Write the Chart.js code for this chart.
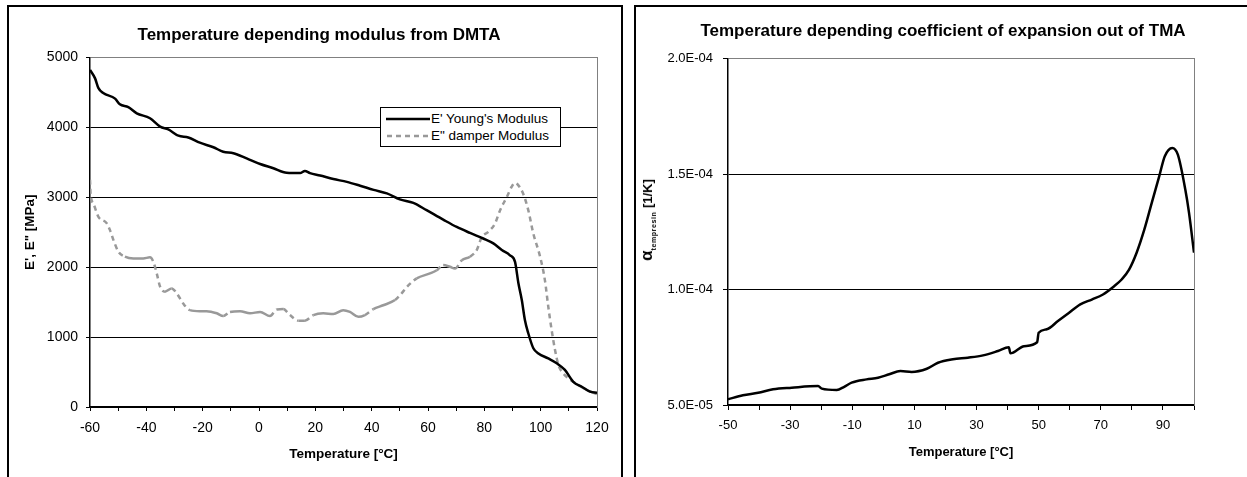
<!DOCTYPE html>
<html>
<head>
<meta charset="utf-8">
<title>DMTA and TMA</title>
<script src="https://cdn.jsdelivr.net/npm/chart.js@4.4.1/dist/chart.umd.min.js"></script>
<style>
    html, body { margin: 0; padding: 0; background: #fff; }
    body {
        width: 1247px;
        height: 477px;
        overflow: hidden;
        position: relative;
        font-family: "Liberation Sans", Arial, sans-serif;
    }
    .frame {
        position: absolute;
        top: 5px;
        height: 490px;
        border: 2px solid #000;
        border-bottom: none;
    }
    #frameLeft { left: 7px; width: 612px; }
    #frameRight { left: 634px; width: 640px; }
    canvas { position: absolute; top: 0; }
    #dmtaChart { left: 0; }
    #tmaChart { left: 630px; }

    /* legend of the DMTA chart */
    #dmtaLegend {
        position: absolute;
        left: 380px;
        top: 107px;
        width: 179px;
        height: 38px;
        border: 1px solid #000;
        background: #fff;
        font-size: 13.5px;
        color: #000;
    }
    .legend-row {
        position: absolute;
        left: 5px;
        height: 16px;
        line-height: 16px;
        white-space: nowrap;
    }
    .legend-row svg { vertical-align: middle; margin-right: 1px; }
    #rowYoung { top: 3px; }
    #rowDamper { top: 20px; }

    /* y axis title of the TMA chart (needs a subscript) */
    #alphaTitle {
        position: absolute;
        left: 647px;
        top: 220px;
        transform: translate(-50%, -50%) rotate(-90deg);
        white-space: nowrap;
        font-weight: bold;
        font-size: 13px;
        color: #000;
    }
    #alphaTitle .alpha { font-size: 17px; }
    #alphaTitle sub { font-size: 7px; letter-spacing: 0.6px; vertical-align: -4px; }
</style>
</head>
<body>
<div class="frame" id="frameLeft"></div>
<div class="frame" id="frameRight"></div>
<canvas id="dmtaChart" width="638" height="477"></canvas>
<canvas id="tmaChart" width="626" height="477"></canvas>

<div id="dmtaLegend">
    <div class="legend-row" id="rowYoung">
        <svg width="44" height="6"><line x1="0" y1="3" x2="44" y2="3" stroke="#000" stroke-width="2.5"/></svg>E' Young's Modulus
    </div>
    <div class="legend-row" id="rowDamper">
        <svg width="44" height="6"><line x1="1" y1="3" x2="44" y2="3" stroke="#999" stroke-width="2.5" stroke-dasharray="5 4"/></svg>E" damper Modulus
    </div>
</div>
<div id="alphaTitle"><span class="alpha">α</span><sub>tempresin</sub> [1/K]</div>

<script>
// ============================================
// Data - DMTA (left chart)
// ============================================

const tempYoung = [-60, -58.2, -57, -55.3, -51.1, -49.4, -46.4, -43.4, -38.7, -35.1, -32.2, -28.6,
    -25.1, -21, -16.2, -12.7, -9.1, -4.4, 0.4, 5.1, 9.8, 14.6, 16.3, 18.1, 21.7, 26.4, 31.2, 35.9,
    40.7, 45.4, 50, 54.8, 59.5, 65.4, 70.2, 74.9, 79.6, 83.2, 86.2, 89.1, 90.9, 92.1, 93.3, 94.4,
    95.6, 97.4, 99.2, 102.7, 105.7, 108.6, 111.6, 114.6, 117.5, 120];
const youngModulus = [4820, 4700, 4560, 4490, 4410, 4330, 4290, 4200, 4130, 4010, 3970, 3880,
    3855, 3780, 3715, 3650, 3630, 3555, 3475, 3415, 3350, 3345, 3375, 3345, 3310, 3260, 3220, 3165,
    3105, 3055, 2970, 2920, 2815, 2680, 2575, 2490, 2410, 2340, 2245, 2170, 2075, 1770, 1530, 1245,
    1055, 840, 765, 695, 625, 530, 360, 290, 220, 205];

const tempDamper = [-60, -59.8, -58.8, -57, -54.1, -52.9, -51.7, -49.9, -47.6, -44.6, -41.1, -38.7,
    -37.5, -36.3, -35.1, -33.4, -31, -29.2, -26.9, -24.5, -21, -18.6, -15, -12.7, -10.3, -6.7, -3.2,
    0.4, 3.9, 6.3, 8.6, 11, 14, 16.3, 19.3, 22.8, 26.4, 29.9, 32.3, 35.3, 37.6, 40.6, 44.1, 48.3,
    50.1, 52.6, 56, 60.7, 63.1, 65.4, 67.8, 69.6, 72, 74.9, 77.3, 79.1, 81.4, 83.8, 85.6, 88, 89.7,
    90.9, 92.1, 93.8, 95.6, 97.4, 99.8, 101.5, 102.7, 103.9, 105.1, 106.3, 108, 110.4, 113.3, 116.3, 120];
const damperModulus = [3250, 3050, 2910, 2720, 2630, 2530, 2390, 2220, 2150, 2125, 2125, 2140,
    2075, 1910, 1720, 1650, 1695, 1625, 1480, 1385, 1370, 1370, 1340, 1300, 1360, 1370, 1340,
    1360, 1300, 1395, 1400, 1315, 1235, 1235, 1315, 1340, 1330, 1385, 1360, 1290, 1315, 1400, 1455, 1530,
    1600, 1720, 1840, 1910, 1955, 2030, 2005, 1980, 2100, 2150, 2245, 2430, 2505, 2625, 2815, 3005, 3150,
    3205, 3170, 3050, 2815, 2480, 2150, 1815, 1435, 1100, 815, 600, 480, 395, 315, 245, 185];

const xTicksDmta = [-60, -50, -40, -30, -20, -10, 0, 10, 20, 30, 40, 50, 60, 70, 80, 90, 100, 110, 120];
const xLabelsDmta = [-60, -40, -20, 0, 20, 40, 60, 80, 100, 120];
const yTicksDmta = [0, 1000, 2000, 3000, 4000, 5000];

// ============================================
// Data - TMA (right chart)
// ============================================

const tempAlpha = [-50, -45.2, -40.3, -35.5, -29.5, -21, -19.8, -15, -12.6, -10.2, -5.4, -1.7,
    1.9, 5.5, 9.1, 14, 17.6, 22.4, 27.2, 32.1, 36.9, 40.4, 40.9, 45.3, 49.5, 50, 52.6, 56.2,
    59.8, 63.4, 67.1, 70.7, 74.3, 76.7, 79.1, 81.5, 84, 86.4, 88.8, 90.6, 93, 94.8, 97.2, 98.4, 100];
const alphaValues = [5.25e-5, 5.42e-5, 5.53e-5, 5.68e-5, 5.75e-5, 5.82e-5, 5.71e-5, 5.65e-5, 5.79e-5,
    5.97e-5, 6.11e-5, 6.18e-5, 6.33e-5, 6.47e-5, 6.43e-5, 6.57e-5, 6.83e-5, 6.98e-5, 7.05e-5, 7.15e-5,
    7.34e-5, 7.50e-5, 7.24e-5, 7.55e-5, 7.72e-5, 8.13e-5, 8.28e-5, 8.64e-5, 9.0e-5, 9.36e-5, 9.57e-5,
    9.79e-5, 1.015e-4, 1.044e-4, 1.087e-4, 1.159e-4, 1.26e-4, 1.376e-4, 1.491e-4, 1.578e-4, 1.614e-4,
    1.585e-4, 1.434e-4, 1.333e-4, 1.16e-4];

const xTicksTma = [-50, -40, -30, -20, -10, 0, 10, 20, 30, 40, 50, 60, 70, 80, 90, 100];
const xLabelsTma = [-50, -30, -10, 10, 30, 50, 70, 90];
const yTicksTma = [5e-5, 1e-4, 1.5e-4, 2e-4];

// ============================================
// Helpers
// ============================================

Chart.defaults.font.family = '"Liberation Sans", Arial, sans-serif';
Chart.defaults.color = '#000';

function toPoints(xs, ys) {
    return xs.map((x, i) => ({ x: x, y: ys[i] }));
}

function sciLabel(value) {
    const parts = value.toExponential(1).split('e');
    const exp = parseInt(parts[1], 10);
    const sign = exp < 0 ? '-' : '+';
    return parts[0] + 'E' + sign + String(Math.abs(exp)).padStart(2, '0');
}

function fixedTicks(values) {
    return function(scale) {
        scale.ticks = values.map(v => ({ value: v }));
    };
}

// excel restarts the dash on every short segment, so only steep parts look dashed
function steepDash(ctx) {
    const dx = Math.abs(ctx.p1.x - ctx.p0.x);
    const dy = Math.abs(ctx.p1.y - ctx.p0.y);
    return dy > dx * 0.6 ? [5, 4] : undefined;
}

function plotBorderAxis(width) {
    return {
        position: 'right',
        display: true,
        afterFit: function(scale) { scale.width = width; },
        ticks: { display: false },
        grid: { display: false },
        border: { color: '#808080', width: 1 }
    };
}

// ============================================
// DMTA chart
// ============================================

function initializeDmtaChart() {
    const ctx = document.getElementById('dmtaChart').getContext('2d');
    const topValue = yTicksDmta[yTicksDmta.length - 1];

    new Chart(ctx, {
        type: 'line',
        data: {
            datasets: [{
                label: "E' Young's Modulus",
                data: toPoints(tempYoung, youngModulus),
                borderColor: '#000',
                borderWidth: 2.5,
                pointRadius: 0,
                cubicInterpolationMode: 'monotone'
            }, {
                label: 'E" damper Modulus',
                data: toPoints(tempDamper, damperModulus),
                borderColor: '#999',
                borderWidth: 2.5,
                pointRadius: 0,
                cubicInterpolationMode: 'monotone',
                segment: { borderDash: steepDash }
            }]
        },
        options: {
            responsive: false,
            animation: false,
            layout: { padding: 0 },
            plugins: {
                legend: { display: false },
                tooltip: { enabled: false },
                title: {
                    display: true,
                    text: 'Temperature depending modulus from DMTA',
                    color: '#000',
                    font: { size: 17, weight: 'bold' },
                    padding: { top: 25, bottom: 12 }
                }
            },
            scales: {
                x: {
                    type: 'linear',
                    min: xTicksDmta[0],
                    max: xTicksDmta[xTicksDmta.length - 1],
                    afterBuildTicks: fixedTicks(xTicksDmta),
                    afterFit: function(scale) { scale.height = 70; },
                    ticks: {
                        autoSkip: false,
                        maxRotation: 0,
                        padding: 9,
                        font: { size: 14 },
                        callback: v => xLabelsDmta.includes(v) ? String(v) : ''
                    },
                    grid: { drawOnChartArea: false, color: '#000', tickLength: 4 },
                    border: { color: '#000', width: 1.5 },
                    title: {
                        display: true,
                        text: 'Temperature [°C]',
                        font: { size: 13.5, weight: 'bold' },
                        padding: { top: 0, bottom: 15 }
                    }
                },
                y: {
                    min: yTicksDmta[0],
                    max: topValue,
                    afterBuildTicks: fixedTicks(yTicksDmta),
                    afterFit: function(scale) { scale.width = 90; },
                    ticks: {
                        padding: 8,
                        font: { size: 14 },
                        callback: v => String(v)
                    },
                    grid: {
                        color: c => (c.tick && c.tick.value === topValue) ? '#808080' : '#000',
                        tickColor: '#000',
                        tickLength: 4
                    },
                    border: { color: '#000', width: 1.5 },
                    title: {
                        display: true,
                        text: 'E\', E" [MPa]',
                        font: { size: 13.5, weight: 'bold' },
                        padding: { top: 22, bottom: 0 }
                    }
                },
                y2: plotBorderAxis(41)
            }
        }
    });
}

// ============================================
// TMA chart
// ============================================

function initializeTmaChart() {
    const ctx = document.getElementById('tmaChart').getContext('2d');
    const topValue = yTicksTma[yTicksTma.length - 1];

    new Chart(ctx, {
        type: 'line',
        data: {
            datasets: [{
                label: 'alpha tempresin',
                data: toPoints(tempAlpha, alphaValues),
                borderColor: '#000',
                borderWidth: 2.5,
                pointRadius: 0,
                cubicInterpolationMode: 'monotone'
            }]
        },
        options: {
            responsive: false,
            animation: false,
            layout: { padding: 0 },
            plugins: {
                legend: { display: false },
                tooltip: { enabled: false },
                title: {
                    display: true,
                    text: 'Temperature depending coefficient of expansion out of TMA',
                    color: '#000',
                    font: { size: 17, weight: 'bold' },
                    padding: { top: 21.5, bottom: 17 }
                }
            },
            scales: {
                x: {
                    type: 'linear',
                    min: xTicksTma[0],
                    max: xTicksTma[xTicksTma.length - 1],
                    afterBuildTicks: fixedTicks(xTicksTma),
                    afterFit: function(scale) { scale.height = 72; },
                    ticks: {
                        autoSkip: false,
                        maxRotation: 0,
                        padding: 8,
                        font: { size: 13 },
                        callback: v => xLabelsTma.includes(v) ? String(v) : ''
                    },
                    grid: { drawOnChartArea: false, color: '#000', tickLength: 5 },
                    border: { color: '#000', width: 1.5 },
                    title: {
                        display: true,
                        text: 'Temperature [°C]',
                        font: { size: 13, weight: 'bold' },
                        padding: { top: 0, bottom: 16.5 }
                    }
                },
                y: {
                    min: yTicksTma[0],
                    max: topValue,
                    afterBuildTicks: fixedTicks(yTicksTma),
                    afterFit: function(scale) { scale.width = 98; },
                    ticks: {
                        padding: 10,
                        font: { size: 13 },
                        callback: v => sciLabel(v)
                    },
                    grid: {
                        color: c => (c.tick && Math.abs(c.tick.value - topValue) < 1e-12) ? '#808080' : '#000',
                        tickColor: '#000',
                        tickLength: 5
                    },
                    border: { color: '#000', width: 1.5 }
                },
                y2: plotBorderAxis(62)
            }
        }
    });
}

initializeDmtaChart();
initializeTmaChart();
</script>
</body>
</html>
